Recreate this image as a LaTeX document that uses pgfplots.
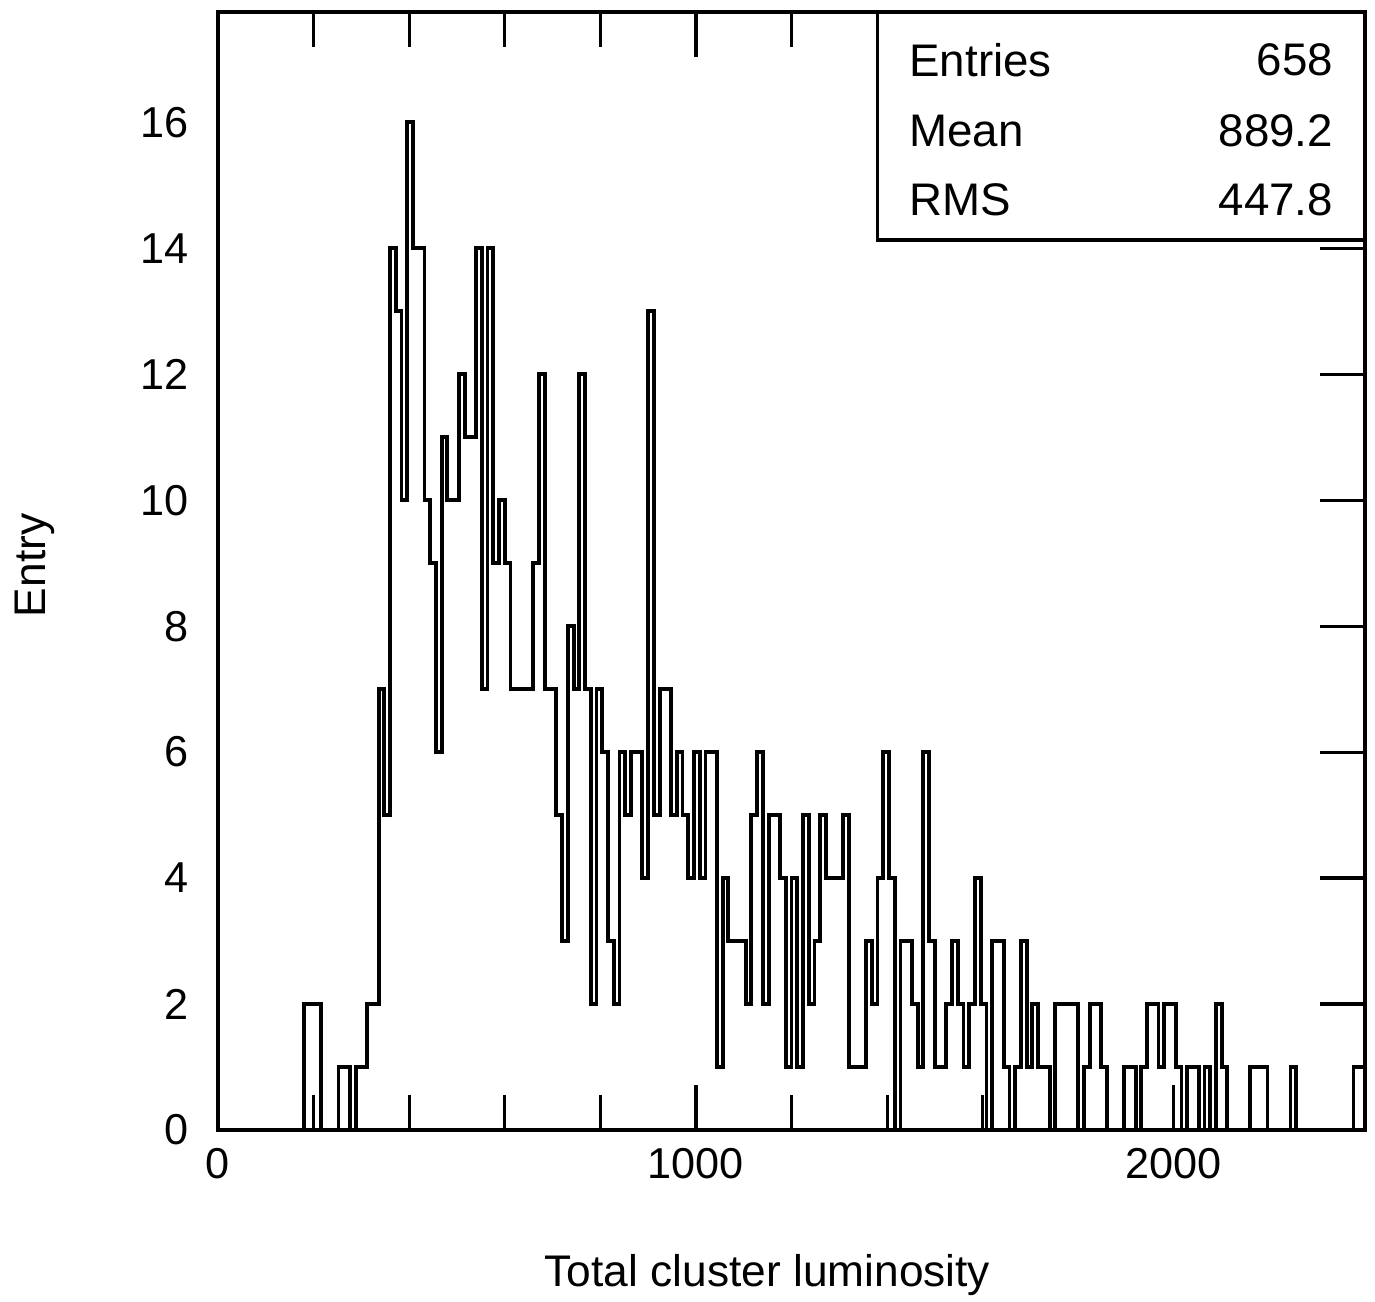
\documentclass[border=0pt]{standalone}
\usepackage{pgfplots}
\pgfplotsset{compat=1.18}
\usepackage{fontspec}
\setmainfont{Liberation Sans}
\begin{document}
\begin{tikzpicture}
\begin{axis}[
  name=ax,
  scale only axis,
  width=11.47cm, height=11.18cm,
  xmin=0, xmax=2400, ymin=0, ymax=17.75,
  axis line style={line width=1pt},
  xtick={0,1000,2000},
  minor x tick num=4,
  ytick={0,2,...,16},
  ytick pos=right,
  yticklabel pos=left,
  tick align=inside,
  major tick length=0.45cm,
  minor tick length=0.35cm,
  every tick/.style={line width=0.9pt, black},
  /pgf/number format/1000 sep={},
  /pgf/number format/assume math mode=true,
  ticklabel style={font=\fontsize{12.3}{14}\selectfont},
  xticklabel style={yshift=-0.06cm},
  yticklabel style={xshift=-0.17cm},
  clip=false,
]
\addplot[const plot mark left, black, line width=1.1pt] table[row sep=\\] {
x y\\
0 0\\ 180 2\\ 192 2\\ 204 2\\ 216 0\\ 228 0\\ 240 0\\ 252 1\\ 264 1\\ 276 0\\
288 1\\ 300 1\\ 312 2\\ 324 2\\ 336 7\\ 348 5\\ 360 14\\ 372 13\\ 384 10\\ 396 16\\
408 14\\ 420 14\\ 432 10\\ 444 9\\ 456 6\\ 468 11\\ 480 10\\ 492 10\\ 504 12\\ 516 11\\
528 11\\ 540 14\\ 552 7\\ 564 14\\ 576 9\\ 588 10\\ 600 9\\ 612 7\\ 624 7\\ 636 7\\
648 7\\ 660 9\\ 672 12\\ 684 7\\ 696 7\\ 708 5\\ 720 3\\ 732 8\\ 744 7\\ 756 12\\
768 7\\ 780 2\\ 792 7\\ 804 6\\ 816 3\\ 828 2\\ 840 6\\ 852 5\\ 864 6\\ 876 6\\
888 4\\ 900 13\\ 912 5\\ 924 7\\ 936 7\\ 948 5\\ 960 6\\ 972 5\\ 984 4\\ 996 6\\
1008 4\\ 1020 6\\ 1032 6\\ 1044 1\\ 1056 4\\ 1068 3\\ 1080 3\\ 1092 3\\ 1104 2\\ 1116 5\\
1128 6\\ 1140 2\\ 1152 5\\ 1164 5\\ 1176 4\\ 1188 1\\ 1200 4\\ 1212 1\\ 1224 5\\ 1236 2\\
1248 3\\ 1260 5\\ 1272 4\\ 1284 4\\ 1296 4\\ 1308 5\\ 1320 1\\ 1332 1\\ 1344 1\\ 1356 3\\
1368 2\\ 1380 4\\ 1392 6\\ 1404 4\\ 1416 0\\ 1428 3\\ 1440 3\\ 1452 2\\ 1464 1\\ 1476 6\\
1488 3\\ 1500 1\\ 1512 1\\ 1524 2\\ 1536 3\\ 1548 2\\ 1560 1\\ 1572 2\\ 1584 4\\ 1596 2\\
1608 0\\ 1620 3\\ 1632 3\\ 1644 1\\ 1656 0\\ 1668 1\\ 1680 3\\ 1692 1\\ 1704 2\\ 1716 1\\
1728 1\\ 1740 0\\ 1752 2\\ 1764 2\\ 1776 2\\ 1788 2\\ 1800 0\\ 1812 1\\ 1824 2\\ 1836 2\\
1848 1\\ 1860 0\\ 1872 0\\ 1884 0\\ 1896 1\\ 1908 1\\ 1920 0\\ 1932 1\\ 1944 2\\ 1956 2\\
1968 1\\ 1980 2\\ 1992 2\\ 2004 1\\ 2016 0\\ 2028 1\\ 2040 1\\ 2052 0\\ 2064 1\\ 2076 0\\
2088 2\\ 2100 1\\ 2112 0\\ 2124 0\\ 2136 0\\ 2148 0\\ 2160 1\\ 2172 1\\ 2184 1\\ 2196 0\\
2208 0\\ 2220 0\\ 2232 0\\ 2244 1\\ 2256 0\\ 2268 0\\ 2280 0\\ 2292 0\\ 2304 0\\ 2316 0\\
2328 0\\ 2340 0\\ 2352 0\\ 2364 0\\ 2376 1\\ 2388 1\\ 2400 1\\
};
\draw[line width=1pt, fill=white] (rel axis cs:0.575,0.796) rectangle (rel axis cs:1,1);
\node[anchor=west, font=\fontsize{13}{15}\selectfont] at (rel axis cs:0.592,0.957) {Entries};
\node[anchor=west, font=\fontsize{13}{15}\selectfont] at (rel axis cs:0.592,0.894) {Mean};
\node[anchor=west, font=\fontsize{13}{15}\selectfont] at (rel axis cs:0.592,0.832) {RMS};
\node[anchor=east, font=\fontsize{13}{15}\selectfont] at (rel axis cs:0.983,0.957) {658};
\node[anchor=east, font=\fontsize{13}{15}\selectfont] at (rel axis cs:0.983,0.894) {889.2};
\node[anchor=east, font=\fontsize{13}{15}\selectfont] at (rel axis cs:0.983,0.832) {447.8};
\node[rotate=90, font=\fontsize{12.6}{15}\selectfont] at (rel axis cs:-0.160,0.505) {Entry};
\node[font=\fontsize{12.6}{15}\selectfont] at (rel axis cs:0.479,-0.130) {Total cluster luminosity};
\end{axis}
\pgfresetboundingbox
\path[use as bounding box] ([shift={(-2.18cm,-1.71cm)}]ax.south west) rectangle ([shift={(0.10cm,0.12cm)}]ax.north east);
\end{tikzpicture}
\end{document}
